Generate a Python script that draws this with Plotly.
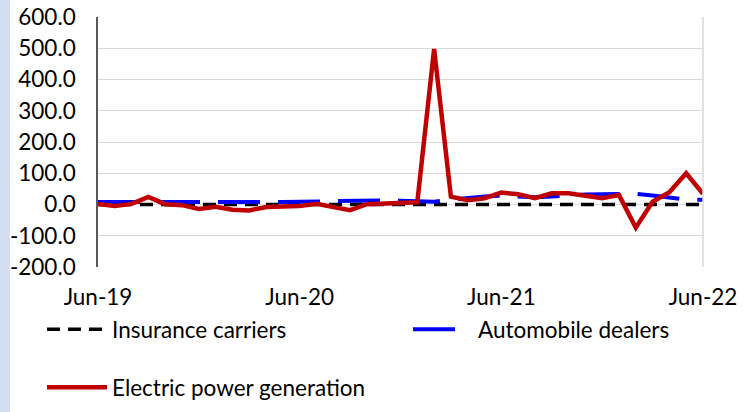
import plotly.graph_objects as go

months = ["Jun-19", "Jul-19", "Aug-19", "Sep-19", "Oct-19", "Nov-19", "Dec-19",
          "Jan-20", "Feb-20", "Mar-20", "Apr-20", "May-20", "Jun-20", "Jul-20",
          "Aug-20", "Sep-20", "Oct-20", "Nov-20", "Dec-20", "Jan-21", "Feb-21",
          "Mar-21", "Apr-21", "May-21", "Jun-21", "Jul-21", "Aug-21", "Sep-21",
          "Oct-21", "Nov-21", "Dec-21", "Jan-22", "Feb-22", "Mar-22", "Apr-22",
          "May-22", "Jun-22"]
x_tick_labels = ["Jun-19", "Jun-20", "Jun-21", "Jun-22"]
y_tick_values = [-200, -100, 0, 100, 200, 300, 400, 500, 600]
y_tick_labels = ["-200.0", "-100.0", "0.0", "100.0", "200.0", "300.0", "400.0",
                 "500.0", "600.0"]

insurance = [0, 0, 0, 1, 0, -1, 0, 0, -1, 0, 0, 0, 0, 0, 0, 0, 0, 0, 0, -1,
             -1, 0, 0, 0, 0, 0, 0, 0, 0, 0, 0, 0, 0, 0, 0, 0, 0]
automobile = [8, 8, 8, 8, 8, 8, 7, 7, 7, 5, 6, 8, 9, 10, 12, 13, 13, 13, 12, 10,
              9, 15, 22, 26, 28, 26, 23, 26, 30, 32, 33, 33, 34, 29, 22, 16, 15]
electric = [2, -5, 2, 24, 1, -2, -14, -7, -17, -19, -8, -6, -5, 2, -8, -18, 1,
            2, 4, 7, 498, 25, 14, 20, 38, 33, 20, 36, 36, 27, 20, 30, -74, 9,
            39, 100, 34]

FONT = "Lato"
FS = 22.5

fig = go.Figure()
fig.add_trace(go.Scatter(x=months, y=insurance, mode="lines", name="Insurance carriers",
                         line=dict(color="#000000", width=3.5, dash="13px,8px"),
                         legend="legend"))
fig.add_trace(go.Scatter(x=months, y=automobile, mode="lines", name="Automobile dealers",
                         line=dict(color="#0000FF", width=4, dash="42px,18px"),
                         legend="legend3"))
fig.add_trace(go.Scatter(x=months, y=electric, mode="lines", name="Electric power generation",
                         line=dict(color="#C00000", width=4.5),
                         legend="legend2"))

legend_common = dict(orientation="h", xref="container", yref="container",
                     xanchor="left", yanchor="top", itemwidth=60,
                     font=dict(family=FONT, size=FS), bgcolor="rgba(0,0,0,0)")

fig.update_layout(
    width=745, height=412, autosize=False,
    margin=dict(l=98, r=42, t=17, b=145, autoexpand=False),
    paper_bgcolor="white", plot_bgcolor="white",
    font=dict(family=FONT, size=FS, color="#000000"),
    showlegend=True,
    xaxis=dict(type="category", categoryorder="array", categoryarray=months,
               range=[0, 36], tickmode="array", tickvals=x_tick_labels,
               showgrid=False, showline=False, zeroline=False, ticks="",
               automargin=False,
               ticklabelstandoff=14, tickfont=dict(family=FONT, size=FS)),
    xaxis2=dict(type="category", categoryorder="array", categoryarray=months,
                range=[0, 36], overlaying="x", anchor="free", position=0.25,
                tickmode="array", tickvals=x_tick_labels, showticklabels=False,
                showgrid=False, showline=True, linecolor="#000000", linewidth=1,
                ticks="outside", ticklen=5, tickcolor="#000000", layer="below traces"),
    yaxis=dict(range=[-200, 600], tickmode="array", tickvals=y_tick_values,
               ticktext=y_tick_labels, automargin=False,
               showgrid=True, gridcolor="#D9D9D9", gridwidth=1,
               showline=True, linecolor="#595959", linewidth=1.5,
               zeroline=False, ticks="", ticklabelstandoff=16,
               tickfont=dict(family=FONT, size=FS)),
    legend=dict(legend_common, x=42 / 745, y=1 - 308 / 412),
    legend3=dict(legend_common, x=408 / 745, y=1 - 308 / 412),
    legend2=dict(legend_common, x=42 / 745, y=1 - 366 / 412),
    shapes=[
        dict(type="rect", xref="paper", yref="paper", x0=-0.17, x1=-88 / 605,
             y0=-0.6, y1=1.1, fillcolor="#D3DEF1", line=dict(width=0), layer="below"),
        dict(type="line", xref="paper", yref="paper", x0=1, x1=1, y0=0, y1=1,
             line=dict(color="#D9D9D9", width=1.5)),
    ],
)

fig.write_html("out.html", config={"displayModeBar": False},
               post_script="document.body.style.margin='0';document.body.style.padding='0';")
